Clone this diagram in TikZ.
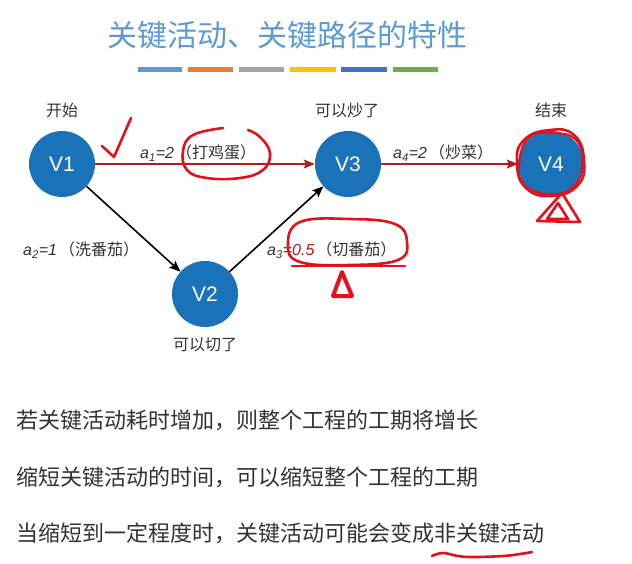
\documentclass[tikz,border=0pt]{standalone}
\usepackage{fontspec}
\setmainfont{Liberation Sans}
\newfontfamily\cjk{Noto Sans CJK SC}
\usetikzlibrary{arrows.meta}
\definecolor{titleblue}{HTML}{5B9BD5}
\definecolor{nodeblue}{HTML}{1A72B9}
\definecolor{critred}{HTML}{B01E1E}
\definecolor{inkred}{HTML}{E3121A}
\definecolor{txtgray}{HTML}{333333}
\definecolor{barA}{HTML}{5B9BD5}
\definecolor{barB}{HTML}{ED7D31}
\definecolor{barC}{HTML}{A5A5A5}
\definecolor{barD}{HTML}{FFC000}
\definecolor{barE}{HTML}{4472C4}
\definecolor{barF}{HTML}{70AD47}
\tikzset{
  vtx/.style={circle,fill=nodeblue,minimum size=66pt,inner sep=0pt,text=white,font=\fontsize{21}{21}\selectfont},
  lbl/.style={text=txtgray,font=\cjk\fontsize{16}{16}\selectfont,inner sep=1pt},
  elbl/.style={text=txtgray,font=\fontsize{16}{16}\selectfont,inner sep=1pt},
  line/.style={txtgray,font=\cjk\fontsize{22}{22}\selectfont,anchor=west,inner sep=0pt},
  crit/.style={critred,line width=1.6pt,-{Stealth[length=11pt,width=9pt,inset=2pt]}},
  norm/.style={black,line width=1.6pt,-{Stealth[length=11pt,width=9pt,inset=2pt]}},
  ink/.style={inkred,line width=2.6pt,line cap=round,line join=round},
  bar/.style={line width=5pt}
}
\begin{document}
\begin{tikzpicture}[x=1pt,y=-1pt]
\useasboundingbox[fill=white] (0,0) rectangle (632,563);
% title
\node[text=titleblue,font=\cjk\fontsize{30}{30}\selectfont] (title) at (287,35) {关键活动、关键路径的特性};
\draw[bar,barA] (138,69) -- (182,69);
\draw[bar,barB] (188,69) -- (233,69);
\draw[bar,barC] (239,69) -- (284,69);
\draw[bar,barD] (290,69) -- (336,69);
\draw[bar,barE] (341,69) -- (387,69);
\draw[bar,barF] (393,69) -- (438,69);
% nodes
\node[vtx] (v1) at (62,164) {V1};
\node[vtx] (v2) at (205,294) {V2};
\node[vtx] (v3) at (348,164) {V3};
\node[vtx] (v4) at (551,164) {V4};
\node[lbl] (l1) at (62,110) {开始};
\node[lbl] (l3) at (347,110) {可以炒了};
\node[lbl] (l4) at (551,110) {结束};
\node[lbl] (l2) at (205,345) {可以切了};
% edges
\draw[crit] (v1) -- (v3);
\draw[crit] (v3) -- (v4);
\draw[norm] (v1) -- (v2);
\draw[norm] (v2) -- (v3);
% edge labels
\node[elbl,anchor=west] (e1) at (139,153) {\textit{a\textsubscript{1}=2}\hspace{2pt}{\cjk（打鸡蛋）}};
\node[elbl,anchor=west] (e4) at (392,153) {\textit{a\textsubscript{4}=2}\hspace{2pt}{\cjk（炒菜）}};
\node[elbl,anchor=west] (e2) at (22,250) {\textit{a\textsubscript{2}=1}\hspace{2pt}{\cjk（洗番茄）}};
\node[elbl,anchor=west] (e3) at (266,250) {\textit{a\textsubscript{3}=\textcolor{critred}{0.5}}\hspace{2pt}{\cjk（切番茄）}};
% text lines
\node[line] (t1) at (16,420) {若关键活动耗时增加，则整个工程的工期将增长};
\node[line] (t2) at (16,477) {缩短关键活动的时间，可以缩短整个工程的工期};
\node[line] (t3) at (16,533) {当缩短到一定程度时，关键活动可能会变成非关键活动};
% hand-drawn annotations
\draw[ink] (102,146) -- (114,157) -- (131,118);
\draw[ink] plot[smooth,tension=0.7] coordinates {(223,128) (193,135) (183,151) (187,170) (207,178) (240,178) (263,170) (270,153) (260,137) (248,130)};
\draw[ink] plot[smooth cycle,tension=0.8] coordinates {(550,130) (574,135) (584,160) (578,185) (552,196) (526,188) (517,163) (524,140)};
\draw[ink,line width=2pt] plot[smooth cycle,tension=0.8] coordinates {(552,133) (576,140) (582,165) (572,188) (548,194) (523,183) (520,158) (530,137)};
\draw[ink] (562,193) -- (537,221) -- (580,222) -- cycle;
\draw[ink] (558,203) -- (547,219) -- (568,219) -- cycle;
\draw[ink] plot[smooth cycle,tension=0.7] coordinates {(300,222) (350,219) (395,224) (407,242) (398,260) (350,265) (300,262) (288,245)};
\draw[ink] (292,266) -- (405,266);
\draw[ink,line width=4pt] (342,272) -- (333,296) -- (352,296) -- cycle;
\draw[ink] plot[smooth,tension=0.7] coordinates {(432,556) (443,553) (458,556) (473,557) (503,556) (520,554) (532,552)};
\end{tikzpicture}
\end{document}
